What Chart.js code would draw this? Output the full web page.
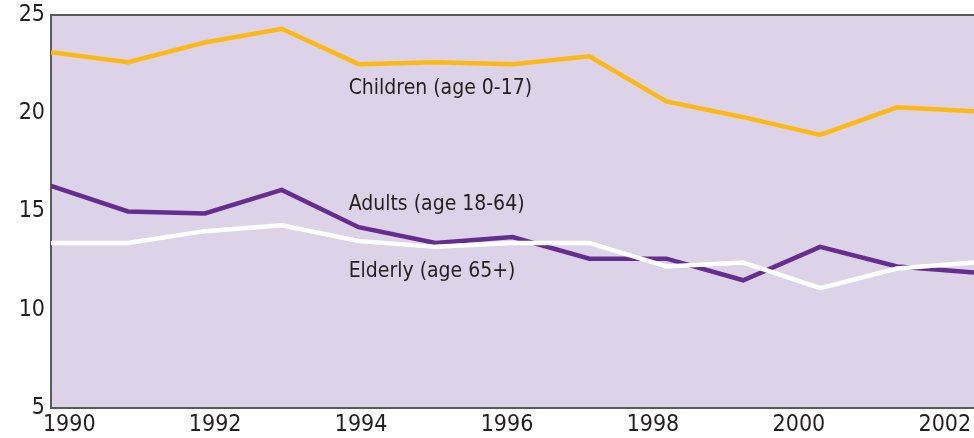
<!doctype html>
<html>

<head>
	<title>Poverty rates by age</title>
	<script src="https://cdn.jsdelivr.net/npm/chart.js@4.4.0/dist/chart.umd.min.js"></script>
	<style>
	body {
		margin: 0;
		background: #ffffff;
	}
	canvas {
		display: block;
	}
	</style>
</head>

<body>
	<canvas id="canvas" width="974" height="438"></canvas>
	<script>
		// values (percent)
		var years = [1990, 1991, 1992, 1993, 1994, 1995, 1996, 1997, 1998, 1999, 2000, 2001, 2002];
		var children = [23.1, 22.6, 23.6, 24.3, 22.5, 22.6, 22.5, 22.9, 20.6, 19.8, 18.9, 20.3, 20.1];
		var adults = [16.3, 15.0, 14.9, 16.1, 14.2, 13.4, 13.7, 12.6, 12.6, 11.5, 13.2, 12.2, 11.9];
		var elderly = [13.4, 13.4, 14.0, 14.3, 13.5, 13.2, 13.4, 13.4, 12.2, 12.4, 11.1, 12.1, 12.4];

		var seriesNames = ['Children (age 0-17)', 'Adults (age 18-64)', 'Elderly (age 65+)'];
		// where each series name sits, in data units
		var nameX = [1993.87, 1993.87, 1993.87];
		var nameY = [21.25, 15.34, 11.93];

		var yMin = 5, yMax = 25, yStep = 5;
		var xLabelStep = 2;

		var fontFamily = "'Liberation Sans Narrow', 'DejaVu Sans Condensed', 'Arial Narrow', sans-serif";
		var textColor = '#231f20';
		var axisColor = '#58595b';

		function toPoints(values) {
			return values.map(function(v, i) {
				return { x: years[i], y: v };
			});
		}

		var plotBackground = {
			id: 'plotBackground',
			beforeDraw: function(chart) {
				var a = chart.chartArea, ctx = chart.ctx;
				ctx.save();
				ctx.fillStyle = '#dcd3e8';
				ctx.fillRect(a.left, a.top, a.right - a.left, a.bottom - a.top);
				ctx.strokeStyle = axisColor;
				ctx.lineWidth = 2;
				ctx.beginPath();
				ctx.moveTo(a.left, a.top);
				ctx.lineTo(a.right, a.top);
				ctx.stroke();
				ctx.restore();
			}
		};

		var seriesLabels = {
			id: 'seriesLabels',
			afterDatasetsDraw: function(chart) {
				var ctx = chart.ctx, xs = chart.scales.x, ys = chart.scales.y;
				ctx.save();
				ctx.font = '21px ' + fontFamily;
				ctx.fillStyle = textColor;
				ctx.textAlign = 'left';
				ctx.textBaseline = 'middle';
				seriesNames.forEach(function(name, i) {
					ctx.fillText(name, xs.getPixelForValue(nameX[i]), ys.getPixelForValue(nameY[i]));
				});
				ctx.restore();
			}
		};

		window.onload = function() {
			var ctx = document.getElementById('canvas').getContext('2d');
			window.myLine = new Chart(ctx, {
				type: 'line',
				data: {
					datasets: [{
						label: seriesNames[0],
						data: toPoints(children),
						borderColor: '#fdb913'
					}, {
						label: seriesNames[2],
						data: toPoints(elderly),
						borderColor: '#ffffff'
					}, {
						label: seriesNames[1],
						data: toPoints(adults),
						borderColor: '#662d91'
					}]
				},
				options: {
					responsive: false,
					animation: false,
					layout: {
						padding: { top: 15, right: 0, bottom: 0, left: 0 }
					},
					elements: {
						line: { borderWidth: 4.5, tension: 0, fill: false },
						point: { radius: 0 }
					},
					plugins: {
						legend: { display: false },
						tooltip: { enabled: false }
					},
					scales: {
						x: {
							type: 'linear',
							min: years[0],
							max: years[years.length - 1],
							display: false
						},
						xLabels: {
							type: 'linear',
							position: 'bottom',
							min: 1989.75,
							max: 2002.4,
							grid: { display: false, drawTicks: false },
							border: { display: true, color: axisColor, width: 2 },
							ticks: {
								stepSize: xLabelStep,
								includeBounds: false,
								padding: 3,
								color: textColor,
								font: { family: fontFamily, size: 23 },
								callback: function(v) { return String(v); }
							},
							afterFit: function(s) {
								s.height = 30;
								s.paddingLeft = 0;
								s.paddingRight = 0;
							}
						},
						y: {
							min: yMin,
							max: yMax,
							grid: { display: false, drawTicks: false },
							border: { display: true, color: axisColor, width: 2 },
							ticks: {
								stepSize: yStep,
								padding: 6,
								color: textColor,
								font: { family: fontFamily, size: 23 }
							},
							afterFit: function(s) {
								s.width = 51;
								s.paddingTop = 0;
								s.paddingBottom = 0;
							}
						}
					}
				},
				plugins: [plotBackground, seriesLabels]
			});
		};
	</script>
</body>

</html>
